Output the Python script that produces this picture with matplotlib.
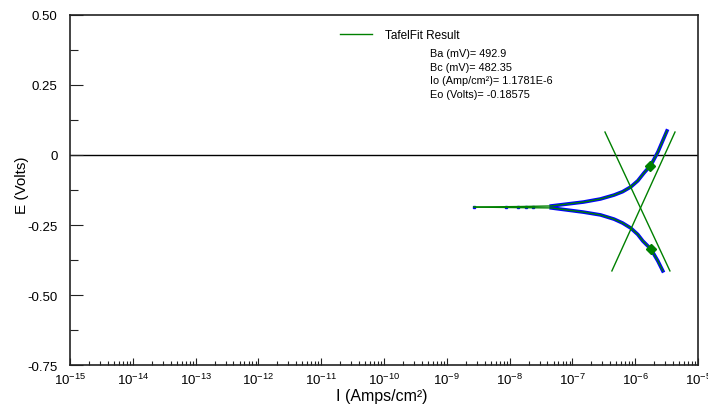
import numpy as np
import matplotlib
matplotlib.use("Agg")
import matplotlib.pyplot as plt
from matplotlib.ticker import LogLocator, FixedLocator, MultipleLocator, NullFormatter

plt.rcParams['font.family'] = ['Liberation Sans', 'DejaVu Sans']
plt.rcParams['mathtext.fontset'] = 'custom'
plt.rcParams['mathtext.rm'] = 'Liberation Sans'
plt.rcParams['mathtext.it'] = 'Liberation Sans'

# anodic branch (upper) - current in A/cm2, potential in V
anodic_I = [2.7e-9, 1.5e-8, 4.6e-8, 1.5e-7, 2.8e-7, 4.6e-7, 6.3e-7, 8.5e-7, 1.1e-6,
            1.38e-6, 1.78e-6, 2.3e-6, 3.2e-6]
anodic_E = [-0.186, -0.184, -0.182, -0.168, -0.157, -0.143, -0.131, -0.114, -0.092,
            -0.064, -0.036, 0.011, 0.086]
# cathodic branch (lower)
cathodic_I = [2.7e-9, 1.5e-8, 4.6e-8, 1.5e-7, 2.8e-7, 4.6e-7, 6.3e-7, 8.5e-7, 1.1e-6,
              1.32e-6, 1.78e-6, 2.3e-6, 2.75e-6]
cathodic_E = [-0.186, -0.188, -0.189, -0.204, -0.214, -0.229, -0.243, -0.261, -0.284,
              -0.307, -0.336, -0.379, -0.414]
# sparse measured points near Ecorr
scatter_I = [2.7e-9, 8.7e-9, 1.35e-8, 1.8e-8, 2.4e-8]
scatter_E = [-0.186, -0.186, -0.186, -0.186, -0.186]

# Tafel lines (end points)
tafel_a_I = [4.25e-7, 4.3e-6]
tafel_a_E = [-0.414, 0.082]
tafel_c_I = [3.3e-7, 3.57e-6]
tafel_c_E = [0.082, -0.414]

# fit region markers
marker_I = [1.71e-6, 1.78e-6]
marker_E = [-0.039, -0.336]

Ba = 492.9
Bc = 482.35
Io = "1.1781E-6"
Eo = -0.18575

fig = plt.figure(figsize=(7.08, 4.10), dpi=100)
ax = fig.add_axes([0.0989, 0.1073, 0.887, 0.8537])

blue = '#0000ff'
green = '#008000'

ax.axhline(0, color='black', linewidth=1.0, zorder=1)

# measured data (blue)
aI = np.array(anodic_I); aE = np.array(anodic_E)
cI = np.array(cathodic_I); cE = np.array(cathodic_E)
ax.plot(aI[aI > 3.5e-8], aE[aI > 3.5e-8], color=blue, linewidth=2.6, zorder=2)
ax.plot(cI[cI > 3.5e-8], cE[cI > 3.5e-8], color=blue, linewidth=2.6, zorder=2)
ax.plot(scatter_I, scatter_E, 's', color=blue, markersize=2, zorder=2)

# fit curve + Tafel lines (green)
fit_line, = ax.plot(anodic_I, anodic_E, color=green, linewidth=1.0, zorder=3,
                    label='TafelFit Result')
ax.plot(cathodic_I, cathodic_E, color=green, linewidth=1.0, zorder=3)
ax.plot(tafel_a_I, tafel_a_E, color=green, linewidth=1.0, zorder=3)
ax.plot(tafel_c_I, tafel_c_E, color=green, linewidth=1.0, zorder=3)
ax.plot(marker_I, marker_E, 'D', color=green, markersize=5, zorder=4)

ax.set_xscale('log')
ax.set_xlim(1e-15, 1e-5)
ax.set_ylim(-0.75, 0.50)

ax.xaxis.set_major_locator(FixedLocator([10.0 ** k for k in range(-15, -4)]))
ax.xaxis.set_minor_locator(LogLocator(base=10, subs=np.arange(2, 10), numticks=30))
ax.xaxis.set_minor_formatter(NullFormatter())
ax.yaxis.set_major_locator(FixedLocator([-0.75, -0.5, -0.25, 0, 0.25, 0.5]))
ax.yaxis.set_minor_locator(MultipleLocator(0.125))
ax.set_yticklabels(['-0.75', '-0.50', '-0.25', '0', '0.25', '0.50'])

ax.tick_params(axis='both', which='both', direction='in', colors='#222222',
               labelcolor='black', labelsize=9.5)
ax.tick_params(axis='x', which='major', length=5, width=0.8, pad=5)
ax.tick_params(axis='x', which='minor', length=3, width=0.8)
ax.tick_params(axis='y', which='major', length=9, width=0.8, pad=9)
ax.tick_params(axis='y', which='minor', length=6, width=0.8)
for s in ax.spines.values():
    s.set_linewidth(1.2)
    s.set_color('#222222')

ax.set_xlabel('I (Amps/cm²)', fontsize=11.5)
ax.xaxis.set_label_coords(0.497, -0.065)
ax.xaxis.label.set_va('top')
ax.set_ylabel('E (Volts)', fontsize=11)
ax.yaxis.set_label_coords(-0.066, 0.517)

ax.legend(handles=[fit_line], loc='center left', bbox_to_anchor=(0.430, 0.943),
          frameon=False, fontsize=8.5, borderpad=0, borderaxespad=0,
          handlelength=2.7, handletextpad=1.1)

fit_text = ("Ba (mV)= %s\nBc (mV)= %s\nIo (Amp/cm²)= %s\nEo (Volts)= %s"
            % (Ba, Bc, Io, Eo))
ax.text(0.573, 0.905, fit_text, transform=ax.transAxes, fontsize=7.8,
        va='top', ha='left', linespacing=1.45)

fig.savefig('out.png', dpi=100)
